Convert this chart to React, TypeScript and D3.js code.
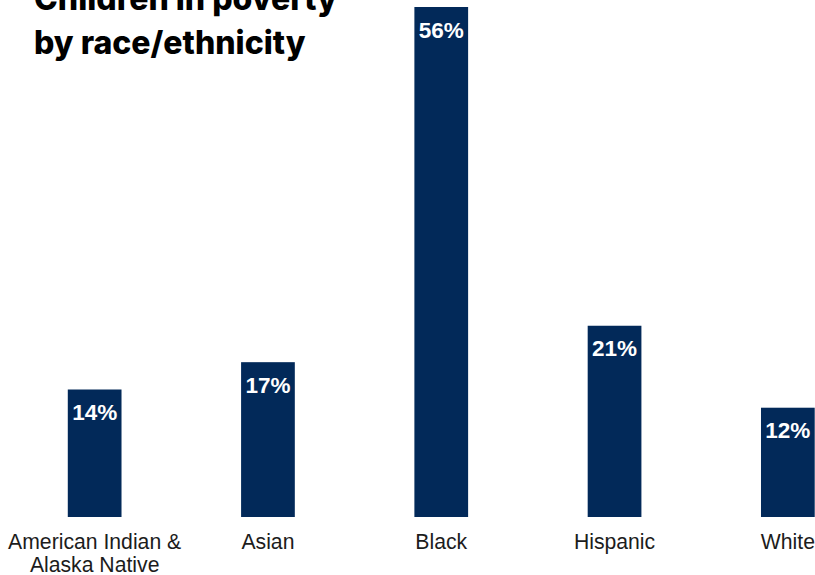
import React from "react";
import * as d3 from "d3";

const categories = ["American Indian & Alaska Native", "Asian", "Black", "Hispanic", "White"];
const categoryLines = [["American Indian &", "Alaska Native"], ["Asian"], ["Black"], ["Hispanic"], ["White"]];
const values = [14, 17, 56, 21, 12];
const valueLabels = ["14%", "17%", "56%", "21%", "12%"];
const titleLines = ["Children in poverty", "by race/ethnicity"];

export default function App() {
  const W = 815, H = 575;
  const baseline = 517;
  const x = d3.scaleBand<string>().domain(categories).range([8, 874.5]).paddingInner(0.69).paddingOuter(0.345);
  const y = d3.scaleLinear().domain([0, 56]).range([baseline, 7]);
  const color = "#022959";
  return (
    <div style={{ position: "absolute", left: 0, top: 0 }}>
      <svg width={W} height={H} style={{ display: "block" }}>
        <rect width={W} height={H} fill="#fff" />
        {categories.map((c, i) => {
          const x0 = x(c)!;
          const bw = x.bandwidth();
          const cx = x0 + bw / 2;
          return (
            <g key={c}>
              <rect x={x0} y={y(values[i])} width={bw} height={baseline - y(values[i])} fill={color} />
              <text x={cx} y={y(values[i]) + 30.5} textAnchor="middle" fill="#fff" fontFamily="Liberation Sans, Arial, sans-serif" fontWeight="bold" fontSize={22.5}>
                {valueLabels[i]}
              </text>
              {categoryLines[i].map((l, j) => (
                <text key={j} x={cx} y={548.5 + j * 23.5} textAnchor="middle" fill="#1c1c1c" fontFamily="Liberation Sans, Arial, sans-serif" fontSize={21.2}>
                  {l}
                </text>
              ))}
            </g>
          );
        })}
        {titleLines.map((t, i) => (
          <text key={i} x={34} y={10 + i * 43.5} fill="#000" fontFamily="Inter, sans-serif" fontWeight={800} fontSize={32} letterSpacing={0}>
            {t}
          </text>
        ))}
      </svg>
    </div>
  );
}
